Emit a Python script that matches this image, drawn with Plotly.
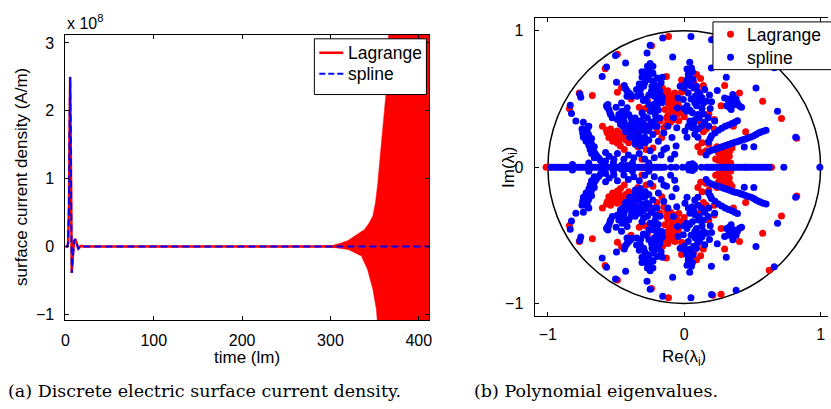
import plotly.graph_objects as go

# ---------------- Left panel data (current density in units of 1e8 A/m) ----------------
time_lm = [0, 2, 3, 4, 4.6, 5.3, 6.0, 6.6, 7.1, 7.8, 8.6, 9.6, 10.9, 12.2, 13.4, 14.6, 16, 18, 20, 100, 200, 300, 412]
lagrange_1e8 = [0, 0, 0.05, 0.6, 1.7, 2.5, 1.5, 0.3, -0.39, -0.25, -0.05, 0.07, 0.11, 0.05, -0.01, -0.03, -0.01, 0.01, 0, 0, 0, 0, 0]
spline_1e8 = [0, 0, 0.05, 0.6, 1.7, 2.5, 1.5, 0.3, -0.39, -0.25, -0.05, 0.07, 0.11, 0.05, -0.01, -0.03, -0.01, 0.01, 0, 0, 0, 0, 0]

# envelope of the fast-growing Lagrange oscillation
env_time_upper = [290, 301, 312, 320, 327, 333, 338.6, 343, 348, 351, 353.6, 357, 360, 364, 366, 370, 412]
env_upper_1e8 = [0.005, 0.01, 0.05, 0.09, 0.15, 0.2, 0.25, 0.33, 0.45, 0.65, 0.94, 1.43, 1.9, 2.41, 3.2, 6, 6]
env_time_lower = [290, 301, 320, 335, 342, 348, 352, 353.6, 356, 412]
env_lower_1e8 = [-0.005, -0.01, -0.044, -0.14, -0.34, -0.63, -0.93, -1.12, -1.6, -6]

# ---------------- Right panel data (eigenvalues, upper half plane; conjugates mirror them) ----------------
blue_real_axis = [-0.977, -0.958, -0.94, -0.921, -0.903, -0.884, -0.866, -0.847, -0.829, -0.81, -0.792,
                  -0.773, -0.755, -0.736, -0.718, -0.699, -0.681, -0.662, -0.644, -0.625, -0.607, -0.588,
                  -0.57, -0.551, -0.533, -0.514, -0.496, -0.477, -0.459, -0.44, -0.422, -0.403, -0.385,
                  -0.366, -0.348, -0.329, -0.311, -0.292, -0.274, -0.255, -0.237, -0.218, -0.2, -0.182,
                  -0.165, -0.145, -0.097, -0.06, -0.012, 0.02, 0.045, 0.07, 0.126, 0.162, 0.18, 0.198,
                  0.217, 0.235, 0.254, 0.272, 0.291, 0.309, 0.328, 0.346, 0.365, 0.383, 0.402, 0.42,
                  0.439, 0.457, 0.476, 0.494, 0.513, 0.531, 0.55, 0.568, 0.587, 0.605, 0.623, 0.73, 0.994]

blue_upper_re = [
    -0.158, -0.25, -0.273, -0.085, -0.504, -0.43, -0.57, -0.602, -0.497, -0.766, -0.759, -0.836, -0.827, -0.795, -0.74,
    0.049, 0.20, 0.308, 0.242, 0.526, 0.684, 0.817, 0.199, 0.66, 0.38,
    -0.722, -0.735, -0.705, -0.71, -0.69, -0.674, -0.667, -0.65, -0.626, -0.602, -0.70, -0.68, -0.66, -0.72,
    -0.577, -0.516, -0.577, -0.443, -0.37,
    -0.56, -0.553, -0.54, -0.528, -0.565,
    -0.48, -0.456, -0.444, -0.407, -0.383, -0.468, -0.419, -0.371, -0.347, -0.322, -0.298, -0.335, -0.31,
    -0.383, -0.359, -0.322, -0.286, -0.274, -0.419, -0.44, -0.395, -0.36,
    -0.431, -0.407, -0.383, -0.42, -0.44,
    -0.274, -0.25, -0.262, -0.225, -0.2, -0.237, -0.213, -0.189, -0.177, -0.2, -0.225, -0.165, -0.25, -0.213,
    -0.322, -0.298, -0.347, -0.27, -0.28, -0.19,
    -0.03, -0.045, -0.05, -0.08, -0.055, -0.09, -0.06, -0.07, -0.12, -0.15, -0.13, -0.20, -0.23, -0.19, -0.25,
    -0.17, -0.10,
    0.053, 0.029, 0.065, 0.005, 0.09, 0.029, 0.114, 0.15, -0.007, 0.077, 0.162, 0.017, 0.102, 0.175, 0.041,
    0.126, 0.223, 0.005, 0.077, 0.06, 0.04,
    0.296, 0.332, 0.369, 0.405, 0.344, 0.356, 0.31, 0.38,
    0.2, 0.236, 0.272, 0.308, 0.344, 0.38, 0.417, 0.453, 0.49, 0.526, 0.562, 0.6,
    0.175, 0.2, 0.25, 0.3, 0.35, 0.39, 0.44, 0.51, 0.16,
    0.035, 0.06, 0.075, -0.46, -0.42, -0.6,
    -0.47, -0.43, -0.39, -0.35, -0.33, -0.30, -0.29, -0.26, -0.34, -0.40, -0.37, -0.45, -0.31, -0.27, -0.24,
    -0.26, -0.24, -0.22, -0.29, -0.31, -0.27, -0.23, -0.26, -0.21, -0.18, -0.16,
    0.03, 0.07, 0.10, 0.13, 0.05, 0.09, 0.13, 0.02, 0.06, 0.14, 0.07, 0.10, 0.03, 0.15, 0.19, 0.04, 0.02,
    0.18, 0.22, 0.255, 0.29, 0.325, 0.36, 0.40, 0.435, 0.47, 0.51, 0.545, 0.58,
    0.19, 0.225, 0.275, 0.325, 0.37,
    0.32, 0.35, 0.39, 0.42, 0.33, 0.36,
    -0.73, -0.715, -0.70, -0.695, -0.68, -0.675, -0.66, -0.64, -0.615, -0.745,
    -0.55, -0.49, -0.41, -0.33, -0.29, -0.22, -0.15,
    -0.57, -0.545, -0.42, -0.395,
    -0.50, -0.46, -0.49, -0.46, -0.43, -0.40, -0.36, -0.33, -0.30, -0.28, -0.26, -0.22, -0.21, -0.18, -0.23,
    -0.20, -0.26, -0.30, -0.32, -0.35, -0.33, -0.31, -0.25, -0.23, -0.17, -0.16,
    0.00, 0.02, 0.045, 0.08, 0.11, 0.14, 0.0, 0.04, 0.08, 0.11, 0.06, 0.02, 0.10, 0.18, 0.20, 0.185,
    -0.75, -0.74, -0.72, -0.70, -0.69, -0.68, -0.66, -0.71,
    -0.82, -0.70, -0.52, -0.38, -0.26,
]
blue_upper_im = [
    0.947, 0.895, 0.837, 0.808, 0.82, 0.764, 0.735, 0.666, 0.623, 0.537, 0.513, 0.455, 0.394, 0.338, 0.33,
    0.958, 0.934, 0.66, 0.562, 0.581, 0.411, 0.22, 0.727, 0.73, 0.903,
    0.277, 0.245, 0.245, 0.211, 0.18, 0.155, 0.119, 0.095, 0.066, 0.034, 0.30, 0.21, 0.15, 0.22,
    0.107, 0.058, 0.046, 0.058, 0.07,
    0.46, 0.424, 0.387, 0.362, 0.44,
    0.387, 0.411, 0.363, 0.387, 0.338, 0.314, 0.29, 0.277, 0.314, 0.338, 0.375, 0.241, 0.204,
    0.241, 0.168, 0.156, 0.18, 0.265, 0.436, 0.33, 0.31, 0.36,
    0.577, 0.545, 0.521, 0.52, 0.60,
    0.703, 0.679, 0.643, 0.63, 0.655, 0.594, 0.557, 0.594, 0.533, 0.496, 0.46, 0.472, 0.411, 0.387,
    0.569, 0.594, 0.52, 0.74, 0.50, 0.42,
    0.594, 0.508, 0.435, 0.362, 0.29, 0.217, 0.156, 0.095, 0.30, 0.25, 0.14, 0.30, 0.24, 0.19, 0.12,
    0.09, 0.06,
    0.727, 0.679, 0.643, 0.606, 0.594, 0.545, 0.533, 0.569, 0.496, 0.472, 0.484, 0.411, 0.387, 0.362, 0.338,
    0.302, 0.338, 0.265, 0.241, 0.70, 0.77,
    0.508, 0.484, 0.46, 0.448, 0.423, 0.533, 0.45, 0.50,
    0.124, 0.136, 0.148, 0.16, 0.173, 0.185, 0.197, 0.209, 0.221, 0.24, 0.258, 0.27,
    0.185, 0.23, 0.27, 0.30, 0.32, 0.34, 0.148, 0.15, 0.09,
    0.02, 0.025, 0.012, 0.015, 0.012, 0.015,
    0.36, 0.40, 0.36, 0.34, 0.29, 0.32, 0.22, 0.20, 0.20, 0.27, 0.22, 0.30, 0.40, 0.36, 0.33,
    0.53, 0.56, 0.52, 0.62, 0.66, 0.67, 0.69, 0.72, 0.60, 0.56, 0.51,
    0.62, 0.58, 0.55, 0.51, 0.50, 0.45, 0.43, 0.45, 0.40, 0.39, 0.32, 0.28, 0.30, 0.33, 0.43, 0.66, 0.72,
    0.115, 0.13, 0.142, 0.154, 0.166, 0.18, 0.19, 0.203, 0.215, 0.23, 0.25, 0.264,
    0.21, 0.25, 0.285, 0.31, 0.33,
    0.50, 0.47, 0.47, 0.44, 0.44, 0.515,
    0.27, 0.26, 0.23, 0.20, 0.17, 0.135, 0.11, 0.08, 0.05, 0.25,
    0.08, 0.10, 0.09, 0.10, 0.06, 0.07, 0.13,
    0.45, 0.40, 0.56, 0.535,
    0.44, 0.47, 0.35, 0.34, 0.26, 0.22, 0.19, 0.18, 0.27, 0.30, 0.28, 0.30, 0.35, 0.36, 0.43,
    0.45, 0.46, 0.49, 0.53, 0.57, 0.61, 0.70, 0.76, 0.74, 0.62, 0.66,
    0.58, 0.64, 0.60, 0.52, 0.49, 0.47, 0.43, 0.42, 0.35, 0.36, 0.29, 0.22, 0.22, 0.30, 0.48, 0.53,
    0.28, 0.22, 0.19, 0.16, 0.13, 0.10, 0.07, 0.285,
    0.02, 0.03, 0.03, 0.03, 0.03,
]

red_real_axis = [-1.013, -0.99, -0.5, -0.3, 0.45, 0.64]
red_upper_re = [
    -0.116, -0.24, -0.49, -0.58, -0.674, -0.842, -0.131, 0.21, 0.296, 0.575, 0.713, 0.825, 0.405, 0.623, 0.27, -0.77,
    -0.565, -0.528, -0.492, -0.456, -0.516, -0.48, -0.444, -0.407, -0.468, -0.553, -0.54, -0.50,
    -0.152, -0.131, -0.107, -0.082, -0.057, -0.092, -0.141, -0.033, -0.069, -0.12, -0.05,
    0.25, 0.28, 0.31, 0.27, 0.30, 0.33, 0.26, 0.32, 0.34, 0.29,
    0.10, 0.13, 0.16, 0.12, 0.18,
    -0.31, -0.25, -0.165, -0.129, -0.177, -0.31, -0.2, -0.46, -0.39, -0.285, -0.33,
    0.07, 0.12, 0.14, 0.10, -0.02,
    0.45, 0.36, 0.18, 0.22,
    -0.55, -0.51, -0.47, -0.43, -0.49, -0.525, -0.57,
    -0.14, -0.12, -0.095, -0.07, -0.045, -0.11, -0.085,
    0.26, 0.29, 0.315, 0.28, 0.335, 0.30, 0.25,
    0.13, 0.11, 0.16,
    -0.13, -0.10, -0.07, -0.04, -0.15, -0.03, 0.0, -0.12, -0.16, -0.36, -0.34, -0.28, -0.23, -0.44, -0.60,
    -0.49, -0.27, 0.23, 0.24, 0.35, 0.22, 0.14, 0.09, -0.02, 0.27,
]
red_upper_im = [
    0.958, 0.89, 0.828, 0.722, 0.525, 0.428, 0.666, 0.94, 0.60, 0.484, 0.358, 0.212, 0.545, 0.757, 0.932, 0.545,
    0.253, 0.241, 0.265, 0.253, 0.204, 0.192, 0.217, 0.18, 0.156, 0.217, 0.28, 0.23,
    0.533, 0.496, 0.46, 0.484, 0.508, 0.411, 0.423, 0.435, 0.545, 0.38, 0.39,
    0.05, 0.03, 0.06, 0.09, 0.12, 0.08, 0.14, 0.16, 0.03, 0.02,
    0.15, 0.18, 0.12, 0.11, 0.17,
    0.302, 0.314, 0.217, 0.314, 0.338, 0.058, 0.26, 0.585, 0.50, 0.43, 0.44,
    0.62, 0.65, 0.60, 0.56, 0.64,
    0.26, 0.30, 0.39, 0.28,
    0.235, 0.25, 0.235, 0.20, 0.175, 0.19, 0.27,
    0.51, 0.47, 0.44, 0.47, 0.46, 0.52, 0.53,
    0.07, 0.10, 0.09, 0.125, 0.12, 0.04, 0.11,
    0.31, 0.34, 0.28,
    0.36, 0.33, 0.35, 0.34, 0.29, 0.40, 0.37, 0.56, 0.58, 0.27, 0.15, 0.13, 0.14, 0.13, 0.30,
    0.55, 0.49, 0.06, 0.15, 0.14, 0.35, 0.26, 0.68, 0.55, 0.45,
]


def with_conjugates(real_axis, up_re, up_im):
    xs = list(real_axis) + list(up_re) + list(up_re)
    ys = [0.0] * len(real_axis) + list(up_im) + [-v for v in up_im]
    return xs, ys


red_x, red_y = with_conjugates(red_real_axis, red_upper_re, red_upper_im)
blue_x, blue_y = with_conjugates(blue_real_axis, blue_upper_re, blue_upper_im)

W, H = 831, 409
FONT = "Liberation Sans, Arial, Helvetica, sans-serif"
SERIF = "DejaVu Serif, serif"
RED, BLUE = "#ff0000", "#0000ff"

fig = go.Figure()

# Left panel
fig.add_trace(go.Scatter(x=time_lm, y=lagrange_1e8, mode="lines", name="Lagrange",
                         line=dict(color=RED, width=2.5), xaxis="x", yaxis="y"))
env_x = env_time_upper + env_time_lower[::-1]
env_y = env_upper_1e8 + env_lower_1e8[::-1]
fig.add_trace(go.Scatter(x=env_x, y=env_y, mode="lines", fill="toself", fillcolor=RED,
                         line=dict(color=RED, width=0.5), name="Lagrange (oscillation)",
                         hoverinfo="skip", xaxis="x", yaxis="y"))
fig.add_trace(go.Scatter(x=time_lm, y=spline_1e8, mode="lines", name="spline",
                         line=dict(color=BLUE, width=2, dash="7px,4px"), xaxis="x", yaxis="y"))

# Right panel
fig.add_trace(go.Scatter(x=red_x, y=red_y, mode="markers", name="Lagrange",
                         marker=dict(color=RED, size=7, line=dict(width=0)), xaxis="x2", yaxis="y2"))
fig.add_trace(go.Scatter(x=blue_x, y=blue_y, mode="markers", name="spline",
                         marker=dict(color=BLUE, size=7, line=dict(width=0)), xaxis="x2", yaxis="y2"))

fig.add_shape(type="circle", xref="x2", yref="y2", x0=-1, y0=-1, x1=1, y1=1,
              line=dict(color="black", width=1.5), layer="below")

ax_common = dict(showgrid=False, zeroline=False, showline=True, linecolor="black", linewidth=1,
                 ticks="inside", ticklen=4, tickcolor="black",
                 tickfont=dict(family=FONT, size=16, color="black"))

fig.update_layout(
    width=W, height=H, margin=dict(l=0, r=0, t=0, b=0, pad=0),
    paper_bgcolor="white", plot_bgcolor="white",
    font=dict(family=FONT, size=16, color="black"),
    showlegend=False,
    xaxis=dict(domain=[62 / W, 429 / W], range=[0, 412], tickvals=[0, 100, 200, 300, 400],
               mirror="ticks", anchor="y", ticklabelstandoff=5, **ax_common),
    yaxis=dict(domain=[1 - 322 / H, 1 - 35 / H], range=[-1.09, 3.12], tickvals=[-1, 0, 1, 2, 3],
               mirror="ticks", anchor="x", ticklabelstandoff=7, **ax_common),
    xaxis2=dict(domain=[536 / W, 1.0], range=[-1.091, 1.054], tickvals=[-1, 0, 1],
                mirror="ticks", anchor="y2", ticklabelstandoff=3, **ax_common),
    yaxis2=dict(domain=[1 - 318 / H, 1 - 18 / H], range=[-1.095, 1.095], tickvals=[-1, 0, 1],
                mirror=False, anchor="x2", ticklabelstandoff=8, **ax_common),
)


def px_x(v):
    return v / W


def px_y(v):
    return 1 - v / H


# ---- legends drawn to match the reference's compact boxes ----
fig.add_shape(type="rect", xref="paper", yref="paper", x0=px_x(313), x1=px_x(426), y0=px_y(95), y1=px_y(39),
              line=dict(color="black", width=1), fillcolor="white", layer="above")
fig.add_shape(type="line", xref="paper", yref="paper", x0=px_x(318), x1=px_x(342), y0=px_y(53), y1=px_y(53),
              line=dict(color=RED, width=2.5), layer="above")
fig.add_shape(type="line", xref="paper", yref="paper", x0=px_x(318), x1=px_x(343), y0=px_y(74), y1=px_y(74),
              line=dict(color=BLUE, width=2, dash="6px,3px"), layer="above")
fig.add_shape(type="rect", xref="paper", yref="paper", x0=px_x(715), x1=px_x(845), y0=px_y(70), y1=px_y(22),
              line=dict(color="black", width=1), fillcolor="white", layer="above")
for cy, col in [(34.5, RED), (57.5, BLUE)]:
    fig.add_shape(type="circle", xref="paper", yref="paper", x0=px_x(729.2), x1=px_x(736.2),
                  y0=px_y(cy + 3.5), y1=px_y(cy - 3.5), line=dict(width=0), fillcolor=col, layer="above")

annots = [
    dict(text="Lagrange", x=px_x(345), y=px_y(53), xanchor="left", yanchor="middle",
         font=dict(family=FONT, size=17.5)),
    dict(text="spline", x=px_x(345), y=px_y(74), xanchor="left", yanchor="middle",
         font=dict(family=FONT, size=17.5)),
    dict(text="Lagrange", x=px_x(747), y=px_y(35), xanchor="left", yanchor="middle",
         font=dict(family=FONT, size=17.5)),
    dict(text="spline", x=px_x(747), y=px_y(58), xanchor="left", yanchor="middle",
         font=dict(family=FONT, size=17.5)),
    dict(text="x 10<sup>8</sup>", x=px_x(62), y=px_y(22), xanchor="left", yanchor="middle",
         font=dict(family=FONT, size=16)),
    dict(text="surface current density (A/m)", x=px_x(17), y=px_y(178), textangle=-90,
         xanchor="center", yanchor="middle", font=dict(family=FONT, size=17)),
    dict(text="time (lm)", x=px_x(245), y=px_y(359), xanchor="center", yanchor="middle",
         font=dict(family=FONT, size=17)),
    dict(text="Re(λ<sub>i</sub>)", x=px_x(686), y=px_y(360), xanchor="center", yanchor="middle",
         font=dict(family=FONT, size=17)),
    dict(text="Im(λ<sub>i</sub>)", x=px_x(510), y=px_y(168), textangle=-90, xanchor="center",
         yanchor="middle", font=dict(family=FONT, size=17)),
    dict(text="(a) Discrete electric surface current density.", x=px_x(2), y=px_y(393),
         xanchor="left", yanchor="middle", font=dict(family=SERIF, size=17.5)),
    dict(text="(b) Polynomial eigenvalues.", x=px_x(472), y=px_y(393),
         xanchor="left", yanchor="middle", font=dict(family=SERIF, size=17.5)),
]
for a in annots:
    fig.add_annotation(xref="paper", yref="paper", showarrow=False, **a)

fig.write_html("out.html", config={"displayModeBar": False},
               post_script="document.body.style.margin='0';document.body.style.padding='0';")
